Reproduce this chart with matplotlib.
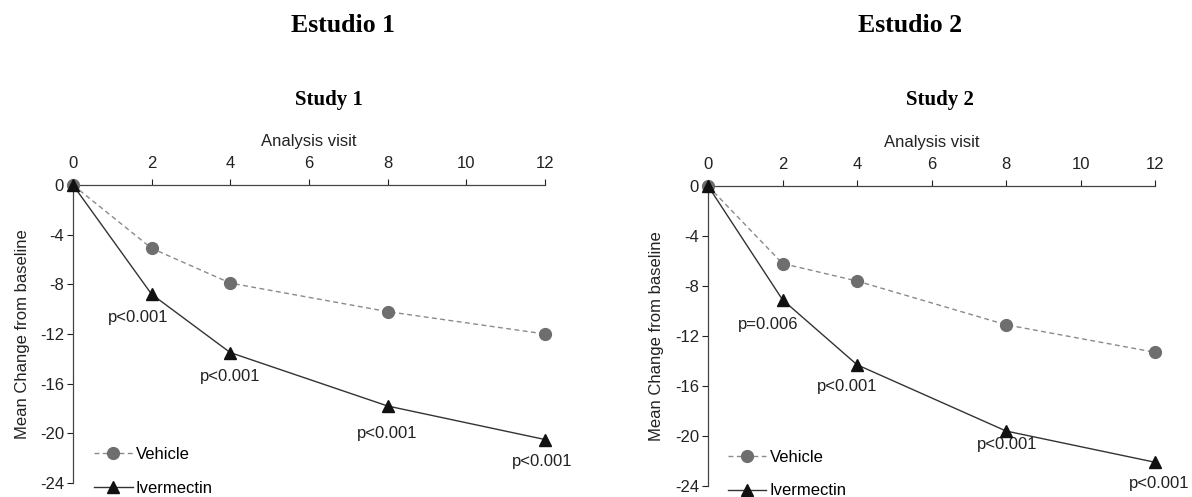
import matplotlib
matplotlib.use("Agg")
import matplotlib.pyplot as plt

plt.rcParams['font.family'] = ['Liberation Sans', 'DejaVu Sans']
plt.rcParams['axes.unicode_minus'] = False

# data
weeks = [0, 2, 4, 8, 12]
vehicle_s1 = [0, -5.1, -7.9, -10.2, -12.0]
ivermectin_s1 = [0, -8.8, -13.5, -17.8, -20.5]
pvals_s1 = ['p<0.001', 'p<0.001', 'p<0.001', 'p<0.001']

vehicle_s2 = [0, -6.2, -7.6, -11.1, -13.3]
ivermectin_s2 = [0, -9.1, -14.3, -19.6, -22.1]
pvals_s2 = ['p=0.006', 'p<0.001', 'p<0.001', 'p<0.001']

xticks = [0, 2, 4, 6, 8, 10, 12]
yticks = [0, -4, -8, -12, -16, -20, -24]

# label offsets in points (dx, dy) under each ivermectin point
offs_s1 = [(-10, -17), (0, -17), (0, -20), (-2, -16)]
offs_s2 = [(-10, -18), (-7, -16), (1, -10), (3, -15)]

fig = plt.figure(figsize=(11.92, 4.97), dpi=100)
ax1 = fig.add_axes([0.0612, 0.0282, 0.396, 0.5996])
ax2 = fig.add_axes([0.594, 0.0221, 0.375, 0.6036])

FS = 12


def draw_panel(ax, veh, iver, pvals, offs, ylab_x):
    ax.plot(weeks, veh, linestyle=(0, (3.5, 2.5)), color='#8a8a8a', lw=1.0,
            marker='o', markersize=8.5, markerfacecolor='#6e6e6e',
            markeredgecolor='#6e6e6e', label='Vehicle', clip_on=False, zorder=3)
    ax.plot(weeks, iver, linestyle='-', color='#333333', lw=1.0,
            marker='^', markersize=9, markerfacecolor='#111111',
            markeredgecolor='#111111', label='Ivermectin', clip_on=False, zorder=4)
    for x, y, txt, (dx, dy) in zip(weeks[1:], iver[1:], pvals, offs):
        ax.annotate(txt, (x, y), xytext=(dx, dy), textcoords='offset points',
                    ha='center', va='center', fontsize=FS, color='#222222')

    ax.set_xlim(0, 12)
    ax.set_ylim(-24, 0)
    ax.set_xticks(xticks)
    ax.set_yticks(yticks)
    ax.xaxis.tick_top()
    ax.xaxis.set_label_position('top')
    ax.set_xlabel('Analysis visit', fontsize=FS, labelpad=7, color='#222222')
    ax.set_ylabel('Mean Change from baseline', fontsize=FS, color='#222222')
    ax.yaxis.set_label_coords(ylab_x, 0.5)
    ax.tick_params(axis='x', direction='out', length=4, width=0.8, pad=6,
                   labelsize=FS, colors='#222222')
    ax.tick_params(axis='y', direction='out', length=4.5, width=0.8, pad=2,
                   labelsize=FS, colors='#222222')
    for s in ['bottom', 'right']:
        ax.spines[s].set_visible(False)
    for s in ['top', 'left']:
        ax.spines[s].set_color('#444444')
        ax.spines[s].set_linewidth(0.9)

    ax.legend(loc='upper left', bbox_to_anchor=(0.045, 0.12), frameon=False,
              fontsize=FS, handlelength=2.3, handletextpad=0.2,
              labelspacing=1.1, borderpad=0, borderaxespad=0)


draw_panel(ax1, vehicle_s1, ivermectin_s1, pvals_s1, offs_s1, -0.091)
draw_panel(ax2, vehicle_s2, ivermectin_s2, pvals_s2, offs_s2, -0.098)

title_font = dict(family=['Liberation Serif', 'DejaVu Serif'], weight='bold')
fig.text(343 / 1192, 1 - 25 / 497, 'Estudio 1', ha='center', va='center', fontsize=18.5, **title_font)
fig.text(910 / 1192, 1 - 25 / 497, 'Estudio 2', ha='center', va='center', fontsize=18.5, **title_font)
fig.text(329 / 1192, 1 - 100 / 497, 'Study 1', ha='center', va='center', fontsize=15, **title_font)
fig.text(940 / 1192, 1 - 100 / 497, 'Study 2', ha='center', va='center', fontsize=15, **title_font)

fig.savefig('out.png', dpi=100)
